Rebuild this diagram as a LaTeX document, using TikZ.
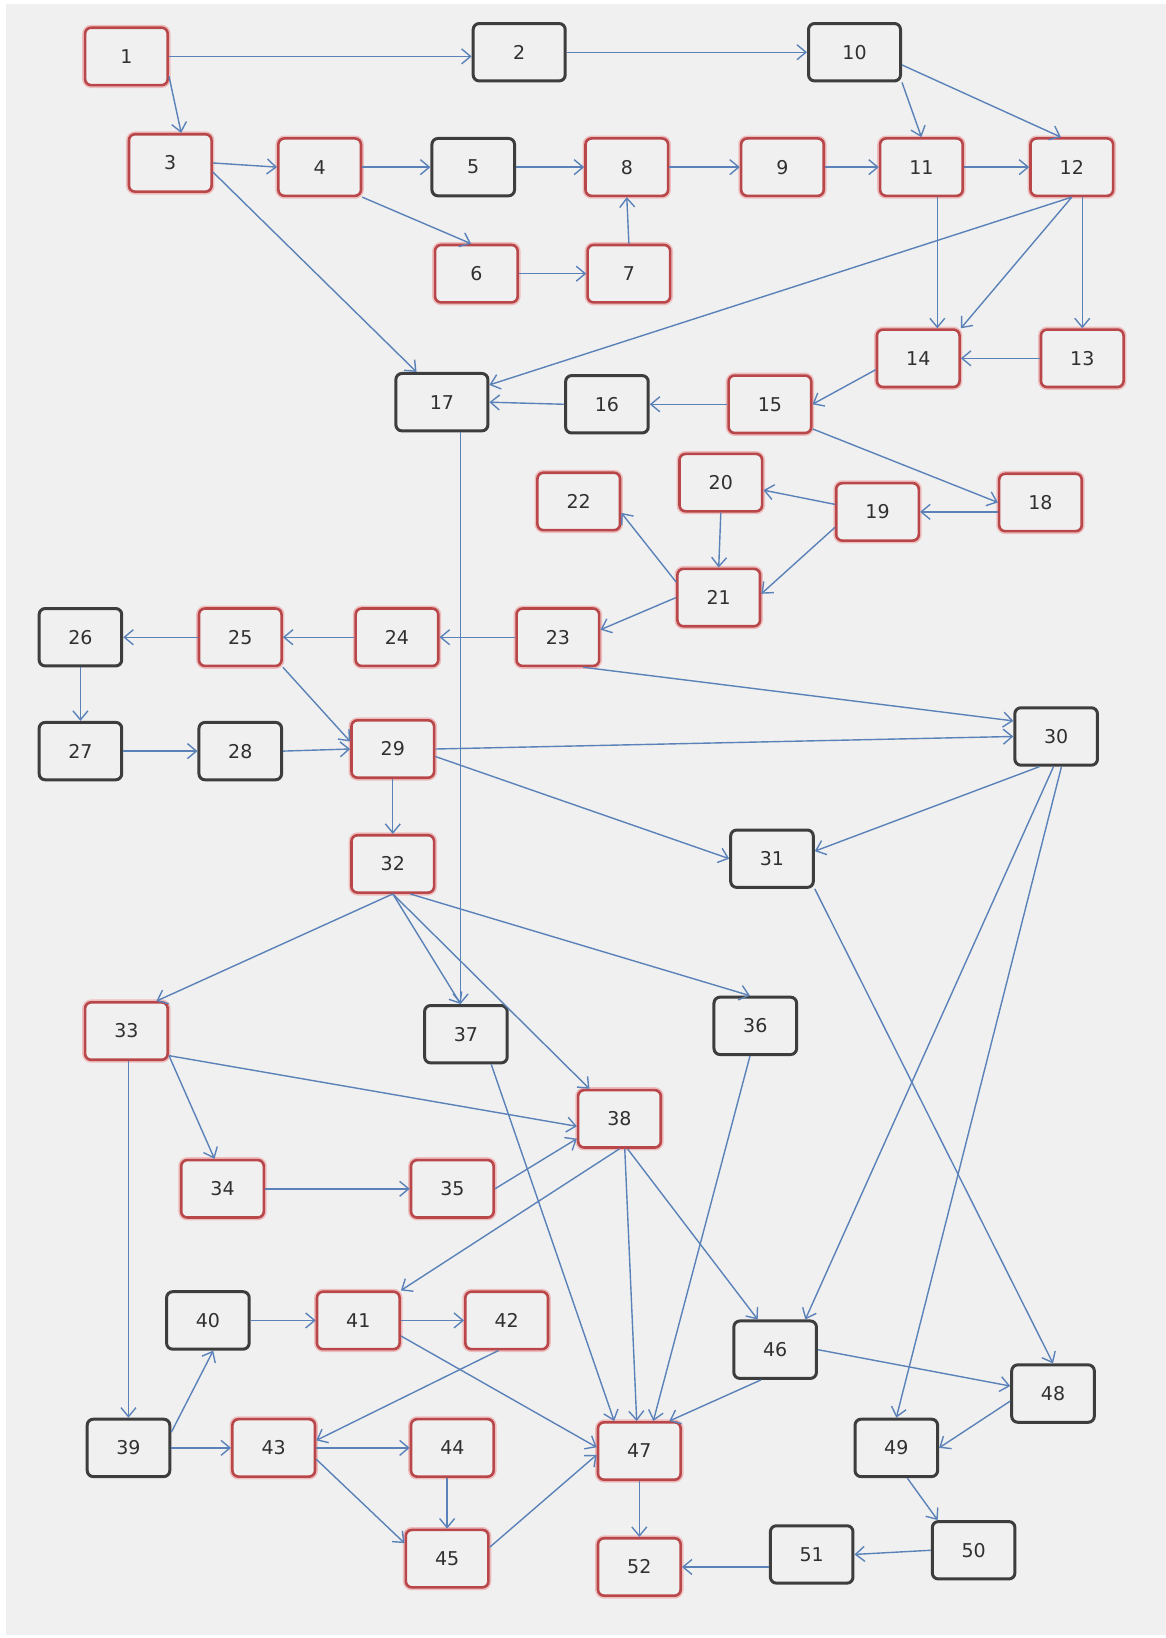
\documentclass[tikz,border=0pt]{standalone}
\usepackage{fontspec}
\setmainfont{DejaVu Sans}
\usetikzlibrary{arrows.meta}
\definecolor{sheetgray}{HTML}{F0F0F0}
\definecolor{taskred}{HTML}{B9474A}
\definecolor{taskglow}{HTML}{EDBDBE}
\definecolor{taskdark}{HTML}{3D3D3D}
\definecolor{linkblue}{HTML}{5A82B8}
\definecolor{labelgray}{HTML}{303030}
\tikzset{
  task/.style={rectangle,rounded corners=3pt,fill=sheetgray,minimum width=41.3pt,
               minimum height=28.7pt,inner sep=0pt,text=labelgray,
               font=\fontsize{9.5}{11}\selectfont},
  redtask/.style={task,draw=taskred,line width=1.3pt,
                  preaction={draw=taskglow,line width=2.9pt}},
  darktask/.style={task,draw=taskdark,line width=1.5pt},
  widetask/.style={minimum width=46pt},
  link/.style={draw=linkblue,line width=0.7pt,-{Straight Barb[length=4.5pt,width=7.5pt]}}
}

\begin{document}
\begin{tikzpicture}[x=0.5224pt,y=-0.5224pt]
  \useasboundingbox (0,0) rectangle (1116,1568);
  \fill[white] (0,0) rectangle (1116,1568);
  \fill[sheetgray] (5.5,4) rectangle (1116,1565);

  % top rows
  \node[redtask] (t1) at (121,54) {1};
  \node[darktask,widetask] (t2) at (497,50) {2};
  \node[darktask,widetask] (t10) at (818,50) {10};
  \node[redtask] (t3) at (163,156) {3};
  \node[redtask] (t4) at (306,160) {4};
  \node[darktask] (t5) at (453,160) {5};
  \node[redtask] (t8) at (600,160) {8};
  \node[redtask] (t9) at (749,160) {9};
  \node[redtask] (t11) at (882,160) {11};
  \node[redtask] (t12) at (1026,160) {12};
  \node[redtask] (t6) at (456,262) {6};
  \node[redtask] (t7) at (602,262) {7};
  \node[redtask] (t14) at (879,343) {14};
  \node[redtask] (t13) at (1036,343) {13};
  \node[darktask,widetask] (t17) at (423,385) {17};
  \node[darktask] (t16) at (581,387) {16};
  \node[redtask] (t15) at (737,387) {15};
  \node[redtask] (t22) at (554,480) {22};
  \node[redtask] (t20) at (690,462) {20};
  \node[redtask] (t19) at (840,490) {19};
  \node[redtask] (t18) at (996,481) {18};
  \node[redtask] (t21) at (688,572) {21};

  % middle rows
  \node[redtask] (t23) at (534,610) {23};
  \node[redtask] (t24) at (380,610) {24};
  \node[redtask] (t25) at (230,610) {25};
  \node[darktask] (t26) at (77,610) {26};
  \node[darktask] (t27) at (77,719) {27};
  \node[darktask] (t28) at (230,719) {28};
  \node[redtask] (t29) at (376,717) {29};
  \node[darktask] (t30) at (1011,705) {30};
  \node[darktask] (t31) at (739,822) {31};
  \node[redtask] (t32) at (376,827) {32};
  \node[redtask] (t33) at (121,987) {33};
  \node[darktask] (t37) at (446,990) {37};
  \node[darktask] (t36) at (723,982) {36};
  \node[redtask] (t38) at (593,1071) {38};
  \node[redtask] (t34) at (213,1138) {34};
  \node[redtask] (t35) at (433,1138) {35};

  % bottom rows
  \node[darktask] (t40) at (199,1264) {40};
  \node[redtask] (t41) at (343,1264) {41};
  \node[redtask] (t42) at (485,1264) {42};
  \node[darktask] (t46) at (742,1292) {46};
  \node[darktask] (t48) at (1008,1334) {48};
  \node[darktask] (t39) at (123,1386) {39};
  \node[redtask] (t43) at (262,1386) {43};
  \node[redtask] (t44) at (433,1386) {44};
  \node[redtask] (t47) at (612,1389) {47};
  \node[darktask] (t49) at (858,1386) {49};
  \node[redtask] (t45) at (428,1492) {45};
  \node[redtask] (t52) at (612,1500) {52};
  \node[darktask] (t51) at (777,1488) {51};
  \node[darktask] (t50) at (932,1484) {50};

  % links
  \draw[link] (t1.east) -- (t1.east -| t2.west);
  \draw[link] (t1.-25) -- (t3.70);
  \draw[link] (t2.east) -- (t10.west);
  \draw[link] (t10.south east) -- (t11.north);
  \draw[link] (t10.-15) -- (t12.110);
  \draw[link] (t3.east) -- (t4.west);
  \draw[link] (t3.-12) -- (t17.130);
  \draw[link] (t4.east) -- (t5.west);
  \draw[link] (t4.south east) -- (t6.100);
  \draw[link] (t5.east) -- (t8.west);
  \draw[link] (t6.east) -- (t7.west);
  \draw[link] (t7.north) -- (t8.south);
  \draw[link] (t8.east) -- (t9.west);
  \draw[link] (t9.east) -- (t11.west);
  \draw[link] (t11.east) -- (t12.west);
  \draw[link] (t11.-62) -- (t11.-62 |- t14.north);
  \draw[link] (t12.south) -- (t14.north east);
  \draw[link] (t13.north |- t12.south) -- (t13.north);
  \draw[link] (t12.south) -- (t17.20);
  \draw[link] (t13.west) -- (t14.east);
  \draw[link] (t14.195) -- (t15.east);
  \draw[link] (t15.west) -- (t16.east);
  \draw[link] (t16.west) -- (t17.east);
  \draw[link] (t15.-30) -- (t18.west);
  \draw[link] (t18.west |- t19.east) -- (t19.east);
  \draw[link] (t19.170) -- (t20.-10);
  \draw[link] (t19.200) -- (t21.5);
  \draw[link] (t20.south) -- (t21.north);
  \draw[link] (t21.160) -- (t22.-15);
  \draw[link] (t21.180) -- (t23.10);
  \draw[link] (t23.west) -- (t24.east);
  \draw[link] (t24.west) -- (t25.east);
  \draw[link] (t25.west) -- (t26.east);
  \draw[link] (t26.south) -- (t27.north);
  \draw[link] (t27.east) -- (t28.west);
  \draw[link] (t28.east) -- (t29.west);
  \draw[link] (t25.south east) -- (t29.170);
  \draw[link] (t29.east) -- (t30.west);
  \draw[link] (t23.-50) -- (t30.160);
  \draw[link] (t29.-10) -- (t31.west);
  \draw[link] (t30.-119) -- (t31.10);
  \draw[link] (t29.south) -- (t32.north);
  \draw[link] (t37.100 |- t17.south) -- (t37.100);
  \draw[link] (t32.south) -- (t33.45);
  \draw[link] (t32.south) -- (t37.100);
  \draw[link] (t32.south) -- (t38.135);
  \draw[link] (t32.-60) -- (t36.100);
  \draw[link] (t33.-30) -- (t38.190);
  \draw[link] (t33.-30) -- (t34.105);
  \draw[link] (t39.north |- t33.south) -- (t39.north);
  \draw[link] (t34.east) -- (t35.west);
  \draw[link] (t35.east) -- (t38.205);
  \draw[link] (t38.south) -- (t41.north east);
  \draw[link] (t38.-80) -- (t47.95);
  \draw[link] (t38.-75) -- (t46.120);
  \draw[link] (t30.-95) -- (t46.45);
  \draw[link] (t30.-80) -- (t49.north);
  \draw[link] (t31.south east) -- (t48.north);
  \draw[link] (t37.-50) -- (t47.130);
  \draw[link] (t36.-100) -- (t47.65);
  \draw[link] (t46.-115) -- (t47.45);
  \draw[link] (t46.east) -- (t48.170);
  \draw[link] (t48.190) -- (t49.east);
  \draw[link] (t49.-70) -- (t50.140);
  \draw[link] (t50.west) -- (t51.east);
  \draw[link] (t52.east -| t51.west) -- (t52.east);
  \draw[link] (t47.south) -- (t52.north);
  \draw[link] (t40.east) -- (t41.west);
  \draw[link] (t41.east) -- (t42.west);
  \draw[link] (t41.-20) -- (t47.175);
  \draw[link] (t42.-105) -- (t43.10);
  \draw[link] (t39.20) -- (t40.-80);
  \draw[link] (t39.east) -- (t43.west);
  \draw[link] (t43.east) -- (t44.west);
  \draw[link] (t43.-15) -- (t45.160);
  \draw[link] (t45.north |- t44.south) -- (t45.north);
  \draw[link] (t45.15) -- (t47.185);
\end{tikzpicture}
\end{document}
